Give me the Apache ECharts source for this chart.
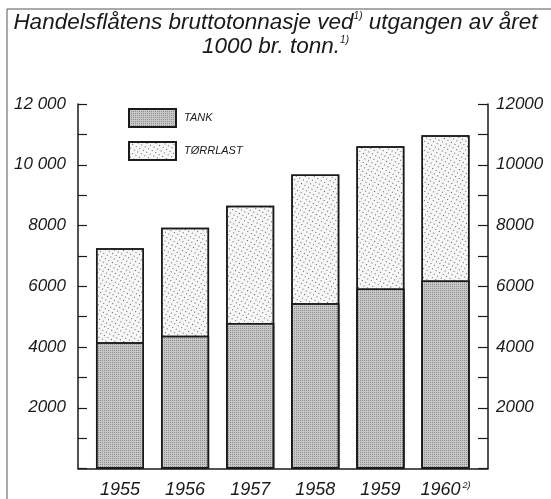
<!DOCTYPE html>
<html>
<head>
<meta charset="utf-8">
<script src="https://cdn.jsdelivr.net/npm/echarts@6/dist/echarts.min.js"></script>
<style>
  html, body { margin: 0; padding: 0; background: #fff; }
  #chart { width: 551px; height: 499px; }
</style>
</head>
<body>
<div id="chart"></div>
<script>
// years and tonnage (1000 br. tonn)
var years = [1955, 1956, 1957, 1958, 1959, 1960];
var tank = [4160, 4370, 4790, 5440, 5930, 6190];
var torrlast = [3090, 3555, 3860, 4240, 4680, 4780];
var yTicksLeft = ['2000', '4000', '6000', '8000', '10 000', '12 000'];
var yTicksRight = ['2000', '4000', '6000', '8000', '10000', '12000'];

var font = 'Liberation Sans';
var ink = '#1a1a1a';

var chart = echarts.init(document.getElementById('chart'));

// x is a value axis here, so the dry-cargo column is drawn as the full
// stack height behind the tank column instead of using stack
var totals = tank.map(function (t, i) { return t + torrlast[i]; });

function pairs(vals) {
  return years.map(function (y, i) { return [y, vals[i]]; });
}

chart.setOption({
  backgroundColor: '#fff',
  animation: false,
  title: {
    text: '{t|Handelsflåtens bruttotonnasje ved}{s|1)}{t| utgangen av året}\n{t|1000 br. tonn.}{s|1)}',
    left: 'center',
    top: 6,
    textStyle: {
      rich: {
        t: { fontFamily: font, fontStyle: 'italic', fontWeight: 'normal', fontSize: 22.5, color: ink, lineHeight: 24 },
        s: { fontFamily: font, fontStyle: 'italic', fontWeight: 'normal', fontSize: 10, color: ink, verticalAlign: 'top', lineHeight: 24, padding: [0, 0, 10, 0] }
      }
    }
  },
  legend: {
    orient: 'vertical',
    left: 123,
    top: 103,
    itemWidth: 47,
    itemHeight: 18,
    itemGap: 13,
    icon: 'rect',
    textStyle: { fontFamily: font, fontStyle: 'italic', fontSize: 11, color: ink, padding: [0, 0, 0, 3] },
    data: ['TANK', 'TØRRLAST']
  },
  grid: { left: 78, right: 63, top: 104, bottom: 26 },
  xAxis: {
    type: 'value',
    min: 1954.355,
    max: 1960.653,
    splitLine: { show: false },
    axisLine: { show: true, lineStyle: { color: ink, width: 1.5 } },
    axisTick: { show: false },
    axisLabel: {
      customValues: years,
      margin: 12,
      fontFamily: font,
      fontStyle: 'italic',
      fontSize: 18,
      color: ink,
      formatter: function (v) {
        return v === 1960 ? '{y|' + v + '}{s|2)}' : '{y|' + v + '}';
      },
      rich: {
        y: { fontFamily: font, fontStyle: 'italic', fontSize: 18, color: ink },
        s: { fontFamily: font, fontStyle: 'italic', fontSize: 9, color: ink, verticalAlign: 'top', padding: [0, 0, 10, 2] }
      }
    }
  },
  yAxis: [
    {
      type: 'value',
      min: 0,
      max: 12000,
      interval: 1000,
      position: 'left',
      splitLine: { show: false },
      axisLine: { show: true, lineStyle: { color: ink, width: 1.5 } },
      axisTick: { show: true, inside: true, length: 9, lineStyle: { color: ink, width: 1.2 } },
      axisLabel: {
        margin: 12,
        fontFamily: font,
        fontStyle: 'italic',
        fontSize: 17,
        color: ink,
        formatter: function (v) {
          if (v === 0 || v % 2000 !== 0) return '';
          return yTicksLeft[v / 2000 - 1];
        }
      }
    },
    {
      type: 'value',
      min: 0,
      max: 12000,
      interval: 1000,
      position: 'right',
      splitLine: { show: false },
      axisLine: { show: true, lineStyle: { color: ink, width: 1.5 } },
      axisTick: { show: true, inside: true, length: 10, lineStyle: { color: ink, width: 1.2 } },
      axisLabel: {
        margin: 8,
        fontFamily: font,
        fontStyle: 'italic',
        fontSize: 17,
        color: ink,
        formatter: function (v) {
          if (v === 0 || v % 2000 !== 0) return '';
          return yTicksRight[v / 2000 - 1];
        }
      }
    }
  ],
  series: [
    {
      name: 'TØRRLAST',
      type: 'bar',
      barWidth: 48,
      barGap: '-100%',
      data: pairs(totals),
      itemStyle: {
        color: '#f7f7f7',
        borderColor: ink,
        borderWidth: 1.5,
        decal: {
          symbol: 'rect',
          symbolSize: 1,
          color: 'rgba(40,40,40,0.75)',
          dashArrayX: [1, 3],
          dashArrayY: [1, 3],
          rotation: 0.5
        }
      }
    },
    {
      name: 'TANK',
      type: 'bar',
      barWidth: 48,
      barGap: '-100%',
      data: pairs(tank),
      itemStyle: {
        color: '#c8c8c8',
        borderColor: ink,
        borderWidth: 1.5,
        decal: {
          symbol: 'rect',
          symbolSize: 1,
          color: 'rgba(90,90,90,0.55)',
          dashArrayX: [1, 1],
          dashArrayY: [1, 1],
          rotation: 0
        }
      }
    }
  ],
  graphic: [
    {
      type: 'polyline',
      shape: { points: [[7, 499], [7, 9], [551, 9]] },
      style: { stroke: '#555', lineWidth: 1, fill: null }
    }
  ]
});
</script>
</body>
</html>
